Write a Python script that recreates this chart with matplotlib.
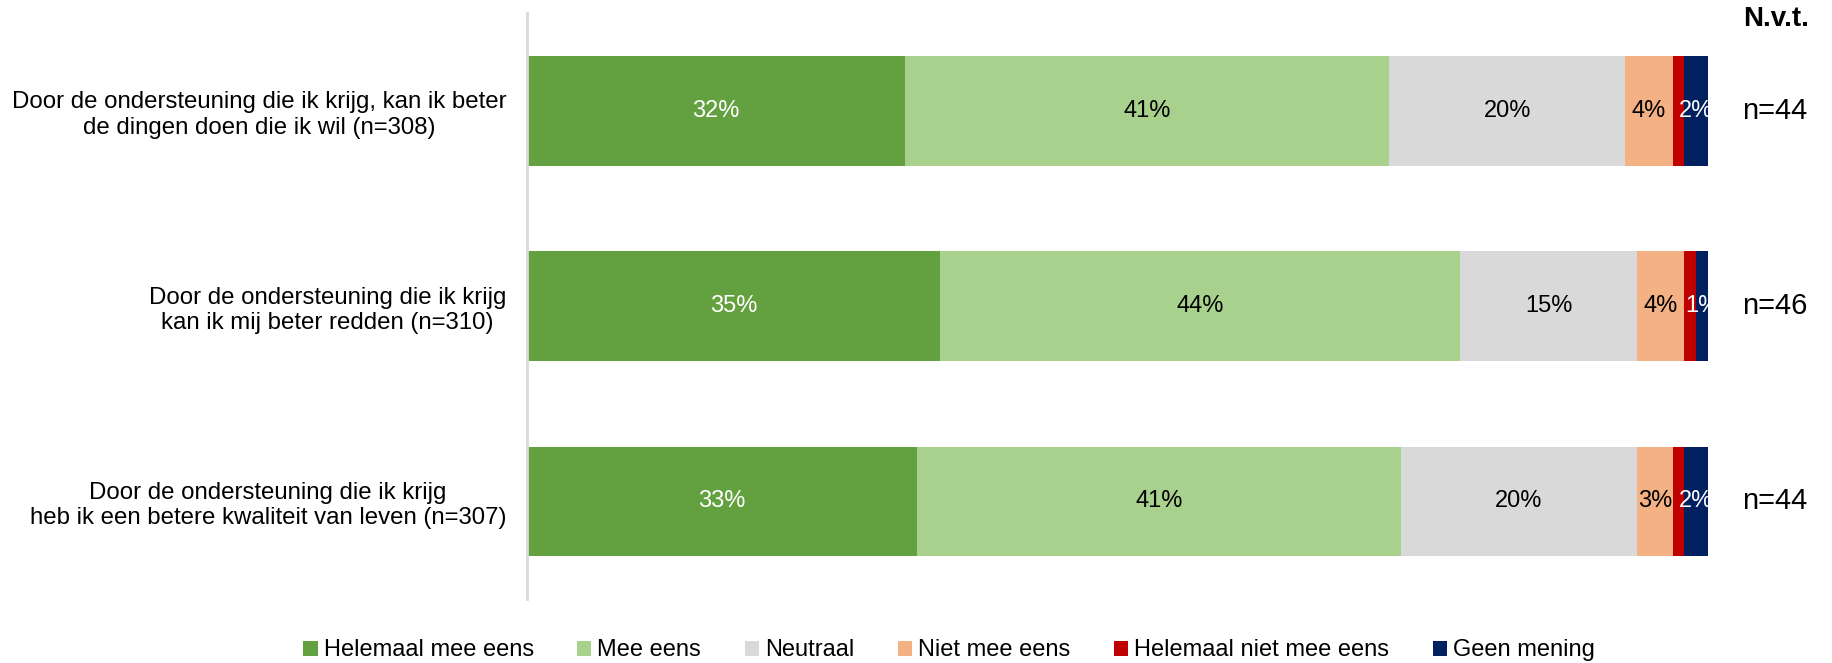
import matplotlib
matplotlib.use('Agg')
import matplotlib.pyplot as plt
import numpy as np
from matplotlib.patches import Patch

plt.rcParams['font.family'] = ['Liberation Sans', 'DejaVu Sans']

statements = [
    'Door de ondersteuning die ik krijg, kan ik beter\nde dingen doen die ik wil (n=308)',
    'Door de ondersteuning die ik krijg\nkan ik mij beter redden (n=310)',
    'Door de ondersteuning die ik krijg\nheb ik een betere kwaliteit van leven (n=307)',
]
categories = ['Helemaal mee eens', 'Mee eens', 'Neutraal', 'Niet mee eens',
              'Helemaal niet mee eens', 'Geen mening']
helemaal_eens = [32, 35, 33]
mee_eens = [41, 44, 41]
neutraal = [20, 15, 20]
niet_eens = [4, 4, 3]
helemaal_niet = [1, 1, 1]
geen_mening = [2, 1, 2]
nvt = ['n=44', 'n=46', 'n=44']

series = [helemaal_eens, mee_eens, neutraal, niet_eens, helemaal_niet, geen_mening]
colors = ['#63A03F', '#A9D18E', '#D9D9D9', '#F4B183', '#C00000', '#002060']
text_colors = ['white', 'black', 'black', 'black', None, 'white']

fig = plt.figure(figsize=(18.32, 6.63), dpi=100)
ax = fig.add_axes([0.2877, 0.0965, 0.6446, 0.8835])

y = np.arange(len(statements))
left = np.zeros(len(statements))
for vals, col, tcol in zip(series, colors, text_colors):
    vals = np.array(vals, dtype=float)
    ax.barh(y, vals, left=left, height=0.56, color=col, edgecolor='none')
    if tcol is not None:
        for yi, (l, v) in enumerate(zip(left, vals)):
            t = ax.text(l + v / 2, yi, f'{int(v)}%', ha='center', va='center',
                        fontsize=17, color=tcol)
            t.set_clip_on(True)
    left += vals

ax.set_xlim(0, 100)
ax.set_ylim(2.5, -0.5)
ax.set_yticks(y)
ax.set_yticklabels(statements, fontsize=17.3, multialignment='center')
ax.tick_params(axis='y', length=0, pad=15)
ax.set_xticks([])
for s in ['top', 'right', 'bottom']:
    ax.spines[s].set_visible(False)
ax.spines['left'].set_color('#D9D9D9')
ax.spines['left'].set_linewidth(2)

# N.v.t. column at the right
for yi, lab in enumerate(nvt):
    ax.text(1.0568, yi, lab, transform=ax.get_yaxis_transform(),
            ha='center', va='center', fontsize=21, clip_on=False)
fig.text(0.9695, 0.972, 'N.v.t.', ha='center', va='center',
         fontsize=20, fontweight='bold')

handles = [Patch(facecolor=c, edgecolor='none') for c in colors]
fig.legend(handles, categories, loc='center', bbox_to_anchor=(0.518, 0.019),
           ncol=6, frameon=False, fontsize=17, handlelength=0.6,
           handleheight=0.6, handletextpad=0.25, columnspacing=1.85)

fig.savefig('out.png', dpi=100)
